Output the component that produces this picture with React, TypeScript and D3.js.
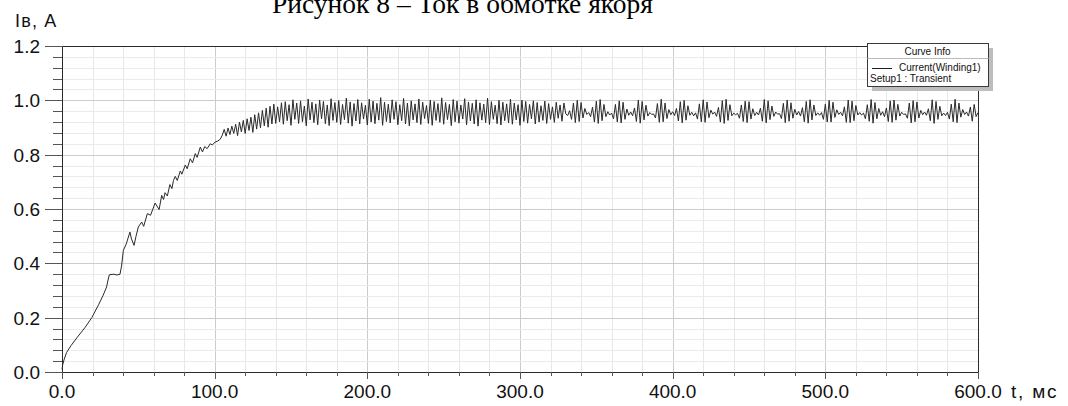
import * as d3 from "d3";

// Labels
const TITLE = "Рисунок 8 – Ток в обмотке якоря";
const Y_LABEL = "Iв, А";
const X_LABEL = "t, мс";
const LEGEND_TITLE = "Curve Info";
const LEGEND_CURVE = "Current(Winding1)";
const LEGEND_SETUP = "Setup1 : Transient";

const xTickValues = [0, 100, 200, 300, 400, 500, 600];
const xTickLabels = ["0.0", "100.0", "200.0", "300.0", "400.0", "500.0", "600.0"];
const yTickValues = [0, 0.2, 0.4, 0.6, 0.8, 1.0, 1.2];
const yTickLabels = ["0.0", "0.2", "0.4", "0.6", "0.8", "1.0", "1.2"];

// rise of the current, read point by point (ms, A)
const rampTime = [
  0, 0.5, 1.5, 3, 6, 10, 15, 19.5, 24, 27, 29.2, 30, 31, 34, 36, 38, 39, 40.2, 42,
  44.5, 45.5, 47.2, 48.5, 50, 52.2, 53.5, 55.9, 58, 61, 63.6, 65.3, 66.5, 67.5, 69,
  70.7, 72, 73, 74.2, 75.5, 77.5, 78.5, 80.8, 82, 84, 85.5, 87.3, 88.5, 90.6, 92,
  93.5, 95, 97.1, 98.5, 100.4, 102, 103.7,
];
const rampCurrent = [
  0.01, 0.028, 0.048, 0.072, 0.098, 0.128, 0.163, 0.2, 0.248, 0.283, 0.313, 0.335,
  0.358, 0.36, 0.357, 0.36, 0.39, 0.448, 0.47, 0.515, 0.49, 0.466, 0.5, 0.534, 0.552,
  0.536, 0.583, 0.577, 0.622, 0.598, 0.65, 0.635, 0.66, 0.648, 0.69, 0.675, 0.705,
  0.72, 0.705, 0.74, 0.728, 0.762, 0.748, 0.785, 0.77, 0.804, 0.79, 0.828, 0.81, 0.83,
  0.822, 0.84, 0.836, 0.847, 0.85, 0.857,
];

// oscillating part, sampled every 1.25 ms from 105 ms
const OSC_START = 105;
const OSC_STEP = 1.25;
const settleCurrent = [
  0.872, 0.893, 0.868, 0.898, 0.874, 0.905, 0.878, 0.912, 0.87, 0.92, 0.884, 0.926,
  0.878, 0.932, 0.889, 0.938, 0.882, 0.947, 0.894, 0.954, 0.899, 0.963, 0.906, 0.971,
  0.901, 0.978, 0.913, 0.986, 0.915, 0.976, 0.921, 0.991,
];
const steadyCurrent = [
  0.912, 0.995, 0.925, 0.984, 0.908, 1.002, 0.93, 0.99, 0.915, 0.998, 0.921, 0.979,
  0.906, 1.005, 0.928, 0.993, 0.918, 0.987, 0.91, 1.001, 0.932, 0.996, 0.914, 0.983,
  0.907, 1.006, 0.926, 0.992, 0.919, 0.999, 0.911, 0.985, 0.929, 1.008, 0.916, 0.994,
  0.905, 0.988, 0.924, 1.003, 0.913, 0.991, 0.931, 0.982, 0.909, 1.004, 0.92, 0.997,
  0.914, 0.989, 0.927, 1.01, 0.908, 0.993, 0.922, 0.986, 0.917, 1.002, 0.93, 0.995,
  0.91, 0.984, 0.925, 1.007, 0.913, 0.99, 0.906, 0.998, 0.928, 0.987, 0.918, 1.005,
  0.911, 0.993, 0.933, 0.981, 0.915, 1.001, 0.908, 0.996, 0.926, 0.988, 0.919, 1.009,
  0.912, 0.992, 0.929, 0.985, 0.907, 1.003, 0.921, 0.997, 0.916, 0.983, 0.931, 1.006,
  0.91, 0.994, 0.924, 0.989, 0.913, 1.002, 0.905, 0.991, 0.927, 0.986, 0.918, 1.008,
  0.911, 0.995, 0.93, 0.982, 0.914, 1.0, 0.909, 0.993, 0.925, 0.987, 0.917, 1.004,
  0.912, 0.99, 0.928, 0.984, 0.908, 1.001, 0.922, 0.996, 0.916, 0.985, 0.932, 0.998,
  0.913, 0.992, 0.92, 0.98, 0.926, 0.997, 0.915, 0.988, 0.93, 0.976, 0.919, 0.993,
  0.934, 0.983, 0.923, 0.99,
];
const beatCurrent = [
  0.95, 0.944, 0.962, 0.93, 0.99, 0.918, 1.0, 0.922, 0.992, 0.935, 0.97,
  0.948, 0.955, 0.94, 0.975, 0.92, 0.997, 0.915, 1.003, 0.925, 0.985, 0.94,
  0.958, 0.946, 0.953, 0.932, 0.985, 0.92, 0.998, 0.917, 0.993, 0.93, 0.968,
  0.945, 0.957, 0.943, 0.972, 0.922, 1.001, 0.916, 0.996, 0.928, 0.982, 0.942,
  0.955, 0.948, 0.95, 0.935, 0.988, 0.919, 1.004, 0.921, 0.99, 0.933, 0.966,
  0.947, 0.958, 0.944, 0.97, 0.924, 0.995, 0.917, 1.0, 0.927, 0.98, 0.945,
  0.956, 0.943, 0.954, 0.931, 0.987, 0.921, 1.002, 0.919, 0.994, 0.936, 0.964,
  0.949, 0.957, 0.941, 0.974, 0.92, 0.999, 0.915, 1.004, 0.926, 0.984, 0.943,
  0.953, 0.947, 0.952, 0.934, 0.983, 0.922, 0.997, 0.918, 0.995, 0.931, 0.969,
  0.944, 0.956, 0.946, 0.971, 0.923, 1.003, 0.917, 0.998, 0.929, 0.979, 0.941,
  0.957, 0.949, 0.951, 0.933, 0.989, 0.918, 1.001, 0.923, 0.991, 0.934, 0.967,
  0.946, 0.959, 0.942, 0.973, 0.921, 0.996, 0.916, 1.002, 0.928, 0.983, 0.944,
  0.954, 0.945, 0.955, 0.93, 0.986, 0.92, 1.0, 0.92, 0.993, 0.937, 0.965,
  0.948, 0.956, 0.943, 0.976, 0.919, 1.001, 0.918, 0.997, 0.925, 0.981, 0.946,
  0.955, 0.946, 0.953, 0.932, 0.984, 0.923, 1.003, 0.916, 0.992, 0.932, 0.97,
  0.945, 0.958, 0.94, 0.972, 0.922, 0.998, 0.919, 1.001, 0.927, 0.985, 0.942,
  0.956, 0.948, 0.95, 0.934, 0.99, 0.917, 0.999, 0.921, 0.994, 0.935, 0.963,
  0.947, 0.957, 0.945, 0.969, 0.925, 1.002, 0.915, 0.996, 0.93, 0.978, 0.943,
  0.953, 0.944, 0.956, 0.931, 0.986, 0.921, 1.004, 0.918, 0.99, 0.938, 0.966,
  0.948, 0.957, 0.942, 0.975, 0.923, 0.985, 0.94, 0.955,
];

const WIDTH = 1068;
const HEIGHT = 406;
const margin = { top: 46, right: 90, bottom: 34, left: 62 };
const SANS = "'Liberation Sans', Arial, sans-serif";

type Pt = { t: number; i: number };

const buildSeries = (): Pt[] => {
  const pts: Pt[] = rampTime.map((t, k) => ({ t, i: rampCurrent[k] }));
  const osc = [...settleCurrent, ...steadyCurrent, ...beatCurrent];
  osc.forEach((i, k) => pts.push({ t: OSC_START + k * OSC_STEP, i }));
  return pts;
};

const App = () => {
  const x0 = margin.left;
  const x1 = WIDTH - margin.right;
  const y0 = HEIGHT - margin.bottom;
  const y1 = margin.top;

  const x = d3.scaleLinear().domain([0, 600]).range([x0, x1]);
  const y = d3.scaleLinear().domain([0, 1.2]).range([y0, y1]);

  const series = buildSeries();
  const line = d3
    .line<Pt>()
    .x((d) => x(d.t))
    .y((d) => y(d.i));

  const px = (v: number) => Math.round(v) + 0.5;

  const xMinor = d3.range(0, 601, 20);
  const yMinor = d3.range(0, 31).map((k) => k * 0.04);

  // legend box
  const lg = { x: 867, y: 43, w: 121, h: 43 };

  return (
    <svg
      width={WIDTH}
      height={HEIGHT}
      style={{ position: "absolute", left: 0, top: 0, background: "#fff" }}
    >
      <rect width={WIDTH} height={HEIGHT} fill="#fff" />

      {/* title, cut at the top of the page as in the scan */}
      <text
        x={272}
        y={13}
        fontFamily="'Liberation Serif', 'Times New Roman', serif"
        fontSize={27.5}
        fill="#000"
      >
        {TITLE}
      </text>

      {/* grid */}
      <g>
        {xMinor.map((v) => (
          <line
            key={"gx" + v}
            x1={px(x(v))}
            x2={px(x(v))}
            y1={y1}
            y2={y0}
            stroke={v % 100 === 0 ? "#cccccc" : "#e8e8e8"}
            strokeWidth={1}
          />
        ))}
        {yMinor.map((v, k) => (
          <line
            key={"gy" + k}
            x1={x0}
            x2={x1}
            y1={px(y(v))}
            y2={px(y(v))}
            stroke={k % 5 === 0 ? "#cccccc" : "#ebebeb"}
            strokeWidth={1}
          />
        ))}
      </g>

      {/* curve */}
      <path d={line(series) ?? ""} fill="none" stroke="#2a2a2a" strokeWidth={1} />

      {/* frame */}
      <g stroke="#2b2b2b" strokeWidth={1} fill="none">
        <line x1={px(x0)} x2={px(x1)} y1={px(y1)} y2={px(y1)} />
        <line x1={px(x1)} x2={px(x1)} y1={px(y1)} y2={px(y0)} />
        <line x1={px(x0)} x2={px(x0)} y1={px(y1)} y2={px(y0)} />
        <line x1={px(x0)} x2={px(x1)} y1={px(y0)} y2={px(y0)} />
      </g>

      {/* y ticks */}
      <g stroke="#555" strokeWidth={1}>
        {yMinor.map((v, k) => (
          <line
            key={"ty" + k}
            x1={k % 5 === 0 ? x0 - 17 : x0 - 9}
            x2={x0}
            y1={px(y(v))}
            y2={px(y(v))}
          />
        ))}
      </g>
      {/* x ticks */}
      <g stroke="#555" strokeWidth={1}>
        {xMinor.map((v) => (
          <line
            key={"tx" + v}
            x1={px(x(v))}
            x2={px(x(v))}
            y1={y0}
            y2={v % 100 === 0 ? y0 + 7 : y0 + 4}
          />
        ))}
      </g>

      <g fontFamily={SANS} fontSize={19} fill="#111">
        {yTickValues.map((v, k) => (
          <text key={"ly" + k} x={40} y={y(v)} dy="0.36em" textAnchor="end">
            {yTickLabels[k]}
          </text>
        ))}
        {xTickValues.map((v, k) => (
          <text key={"lx" + k} x={x(v)} y={398} textAnchor="middle">
            {xTickLabels[k]}
          </text>
        ))}
        <text x={1011} y={398} letterSpacing={1.8}>
          {X_LABEL}
        </text>
        <text x={15} y={27} fontSize={18} letterSpacing={1.2}>
          {Y_LABEL}
        </text>
      </g>

      {/* legend */}
      <g fontFamily={SANS} fontSize={10} fill="#111">
        <rect x={lg.x + 5} y={lg.y + 5} width={lg.w} height={lg.h} fill="#bdbdbd" />
        <rect
          x={lg.x + 0.5}
          y={lg.y + 0.5}
          width={lg.w}
          height={lg.h}
          fill="#fff"
          stroke="#3a3a3a"
        />
        <line
          x1={lg.x + 0.5}
          x2={lg.x + lg.w + 0.5}
          y1={lg.y + 15.5}
          y2={lg.y + 15.5}
          stroke="#bbb"
        />
        <text x={lg.x + lg.w / 2} y={lg.y + 12} textAnchor="middle">
          {LEGEND_TITLE}
        </text>
        <line
          x1={lg.x + 5}
          x2={lg.x + 25}
          y1={lg.y + 25.5}
          y2={lg.y + 25.5}
          stroke="#1e1e1e"
        />
        <text x={lg.x + 32} y={lg.y + 28}>
          {LEGEND_CURVE}
        </text>
        <text x={lg.x + 3} y={lg.y + 39}>
          {LEGEND_SETUP}
        </text>
      </g>
    </svg>
  );
};

export default App;
